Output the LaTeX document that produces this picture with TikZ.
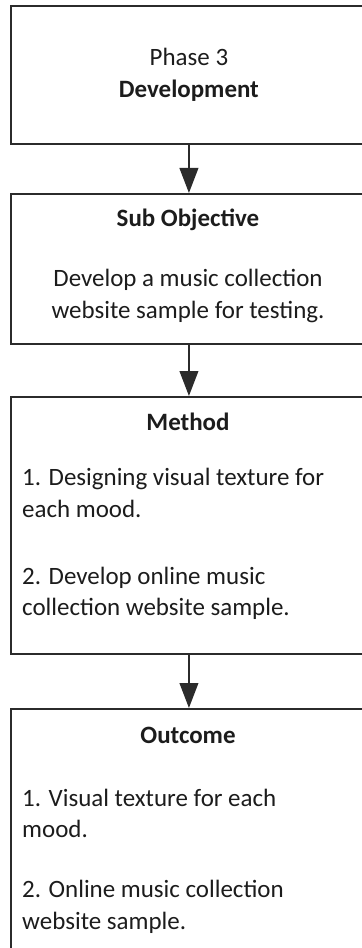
\documentclass[tikz,border=0pt]{standalone}
\usepackage{fontspec}
\setmainfont{Carlito}
\usetikzlibrary{positioning,arrows.meta}
\definecolor{boxline}{HTML}{2B2B2B}
\definecolor{inktext}{HTML}{1C1C1C}
\tikzset{
  stage/.style={rectangle,draw=boxline,line width=1.6pt,minimum width=10.68cm,inner sep=0,anchor=north west},
  txt/.style={font=\fontsize{21.3}{27}\selectfont,text=inktext,inner sep=0},
  head/.style={txt,font=\fontsize{21.3}{27}\selectfont\bfseries},
  body/.style={txt,align=center},
  item/.style={txt,align=left,anchor=west},
  flow/.style={-{Triangle[length=7.5mm,width=5.6mm]},line width=1.6pt,draw=boxline},
}
\begin{document}
\begin{tikzpicture}
  \useasboundingbox (0,0) rectangle (10.86,-28.44);
  % the four stages, right and bottom edges run past the page
  \node[stage,minimum height=4.14cm] (phase) at (0.3,-0.15) {};
  \node[stage,minimum height=4.5cm] (subobj) at (0.3,-5.79) {};
  \node[stage,minimum height=7.71cm] (method) at (0.3,-11.88) {};
  \node[stage,minimum height=7.8cm] (outcome) at (0.3,-21.24) {};
  % phase
  \node[body] (phasetxt) at (phase.center) {Phase 3\\\textbf{Development}};
  % sub objective
  \node[head] (subobjhd) at (5.64,-6.6) {Sub Objective};
  \node[body] (subobjtxt) at (5.64,-8.88) {Develop a music collection\\website sample for testing.};
  % method
  \node[head] (methodhd) at (5.64,-12.66) {Method};
  \node[item] (methodone) at (0.66,-14.78) {1. Designing visual texture for\\each mood.};
  \node[item] (methodtwo) at (0.66,-17.8) {2. Develop online music\\collection website sample.};
  % outcome
  \node[head] (outcomehd) at (5.64,-22.05) {Outcome};
  \node[item] (outcomeone) at (0.66,-24.4) {1. Visual texture for each\\mood.};
  \node[item] (outcometwo) at (0.66,-27.2) {2. Online music collection\\website sample.};
  % arrows between stages
  \draw[flow] (phase) -- (subobj);
  \draw[flow] (subobj) -- (method);
  \draw[flow] (method) -- (outcome);
\end{tikzpicture}
\end{document}
